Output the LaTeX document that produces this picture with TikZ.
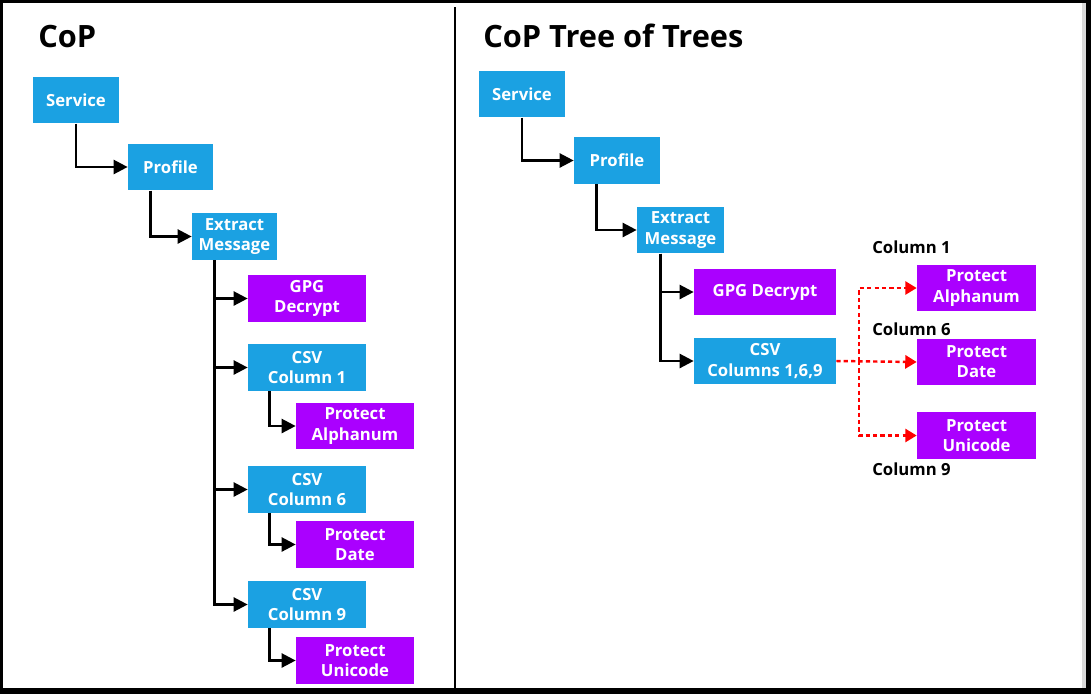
\documentclass[tikz,border=0pt]{standalone}
\usepackage{fontspec}
\setmainfont{Open Sans}
\usetikzlibrary{arrows.meta}

\definecolor{cblue}{HTML}{1BA1E2}
\definecolor{cviolet}{HTML}{AA00FF}

\tikzset{
  stage/.style={fill=cblue, text=white, font=\bfseries\fontsize{9.5}{11.5}\selectfont,
    align=center, inner sep=0pt, minimum height=0.93cm},
  guard/.style={stage, fill=cviolet},
  link/.style={line width=1.4pt, -{Triangle[length=8pt,width=8pt]}},
  fanout/.style={line width=1.4pt, red, dash pattern=on 2.4pt off 1.8pt,
    -{Triangle[length=6.5pt,width=7.5pt]}},
  colname/.style={anchor=west, inner sep=0pt, font=\bfseries\fontsize{9.5}{11.5}\selectfont},
  heading/.style={anchor=base west, inner sep=0pt, font=\bfseries\fontsize{17.5}{20}\selectfont}
}

\begin{document}
\begin{tikzpicture}[x=0.02cm, y=-0.02cm]

  % Frame
  \useasboundingbox (0,0) rectangle (1091,694);
  \fill[black] (0,0) rectangle (1091,694);
  \fill[white] (3,3) rectangle (1086,688);
  \fill[black!15] (1082,3) rectangle (1086,688);
  \draw[line width=1pt] (455,7) -- (455,688);

  % Titles
  \node[heading] (titleL) at (38,47) {CoP};
  \node[heading] (titleR) at (483,47) {CoP Tree of Trees};

  % CoP
  \node[stage, minimum width=1.72cm] (svcL) at (76,100) {Service};
  \node[stage, minimum width=1.7cm] (proL) at (170.5,167) {Profile};
  \node[stage, minimum width=1.7cm] (extL) at (234.5,236.5) {Extract\\Message};
  \node[guard, minimum width=2.36cm] (gpgL) at (307,298.5) {GPG\\Decrypt};
  \node[stage, minimum width=2.36cm] (csv1L) at (307,367.5) {CSV\\Column 1};
  \node[guard, minimum width=2.36cm] (alnL) at (355,426) {Protect\\Alphanum};
  \node[stage, minimum width=2.36cm] (csv6L) at (307,489.5) {CSV\\Column 6};
  \node[guard, minimum width=2.36cm] (dateL) at (355,544.5) {Protect\\Date};
  \node[stage, minimum width=2.36cm] (csv9L) at (307,604.5) {CSV\\Column 9};
  \node[guard, minimum width=2.36cm] (uniL) at (355,660.5) {Protect\\Unicode};

  \draw[link] (svcL.south) |- (proL.west);
  \draw[link] ([xshift=0.46cm]proL.south west) |- (extL.west);
  \foreach \n in {gpgL, csv1L, csv6L, csv9L}
    \draw[link] ([xshift=0.46cm]extL.south west) |- (\n.west);
  \draw[link] ([xshift=0.44cm]csv1L.south west) |- (alnL.west);
  \draw[link] ([xshift=0.44cm]csv6L.south west) |- (dateL.west);
  \draw[link] ([xshift=0.44cm]csv9L.south west) |- (uniL.west);

  % CoP Tree of Trees
  \node[stage, minimum width=1.72cm] (svcR) at (522,94) {Service};
  \node[stage, minimum width=1.72cm] (proR) at (617,160.5) {Profile};
  \node[stage, minimum width=1.74cm] (extR) at (680.5,230) {Extract\\Message};
  \node[guard, minimum width=2.84cm] (gpgR) at (765,292) {GPG Decrypt};
  \node[stage, minimum width=2.84cm] (csvR) at (765,361) {CSV\\Columns 1,6,9};
  \node[guard, minimum width=2.38cm] (alnR) at (976.5,288) {Protect\\Alphanum};
  \node[guard, minimum width=2.38cm] (dateR) at (976.5,362) {Protect\\Date};
  \node[guard, minimum width=2.38cm] (uniR) at (976.5,435.5) {Protect\\Unicode};

  \node[colname] (col1) at (872,247) {Column 1};
  \node[colname] (col6) at (872,329) {Column 6};
  \node[colname] (col9) at (872,469) {Column 9};

  \draw[link] (svcR.south) |- (proR.west);
  \draw[link] ([xshift=0.46cm]proR.south west) |- (extR.west);
  \draw[link] ([xshift=0.48cm]extR.south west) |- (gpgR.west);
  \draw[link] ([xshift=0.48cm]extR.south west) |- (csvR.west);

  \coordinate (fork) at (859,361);
  \draw[fanout] (csvR.east) -- (dateR.west);
  \draw[fanout] (fork) |- (alnR.west);
  \draw[fanout] (fork) |- (uniR.west);

\end{tikzpicture}
\end{document}
